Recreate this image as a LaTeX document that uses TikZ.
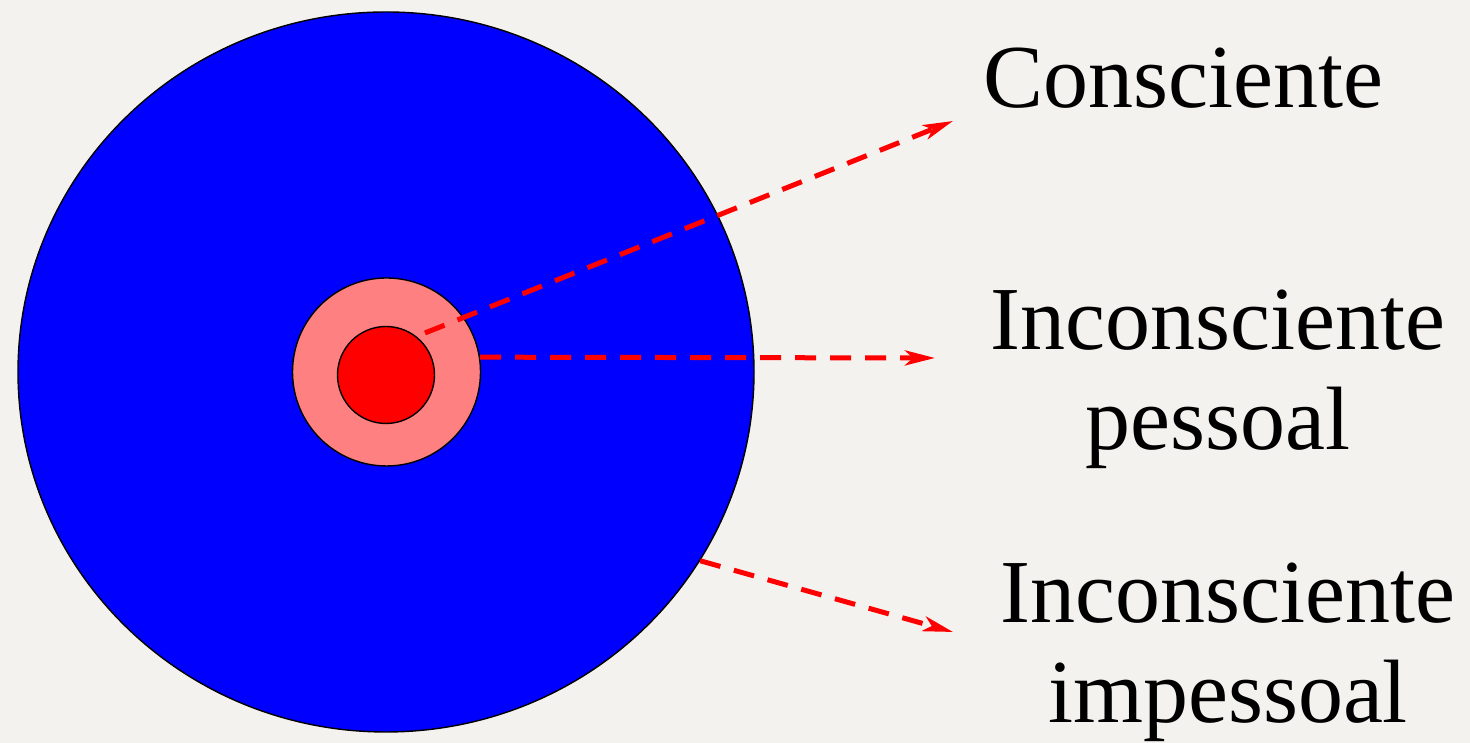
\documentclass[tikz,border=0pt]{standalone}
\usepackage{fontspec}
\setmainfont{Liberation Serif}
\usetikzlibrary{arrows.meta,shapes.geometric}
\definecolor{bgPaper}{HTML}{F4F2EE}
\definecolor{deepBlue}{HTML}{0000FF}
\definecolor{softRed}{HTML}{FF8080}
\definecolor{coreRed}{HTML}{FF0000}

\begin{document}
\begin{tikzpicture}[
      layernode/.style={draw=black, line width=0.4pt, inner sep=0pt},
      labelnode/.style={font=\fontsize{25.6pt}{28.5pt}\selectfont, align=center, inner sep=0pt, anchor=base},
      dasharr/.style={-{Stealth[length=0.3cm, width=0.15cm, inset=0.08cm]}, draw=coreRed,
        line width=0.05cm, dash pattern=on 0.21cm off 0.14cm}
    ]
      \fill[bgPaper] (0,0) rectangle (14.7,7.43);
      \useasboundingbox (0,0) rectangle (14.7,7.43);

      % the three layers
      \node[layernode, ellipse, fill=deepBlue, minimum width=7.36cm, minimum height=7.2cm] (impess) at (3.86,3.71) {};
      \node[layernode, circle, fill=softRed, minimum size=1.88cm] (pess) at (3.865,3.71) {};
      \node[layernode, circle, fill=coreRed, minimum size=0.97cm] (consc) at (3.86,3.68) {};

      % labels (base = last line)
      \node[labelnode] (lconsc) at (11.83,6.35) {Consciente};
      \node[labelnode] (lpess) at (12.18,2.93) {Inconsciente\\pessoal};
      \node[labelnode] (limpess) at (12.28,0.20) {Inconsciente\\impessoal};

      \coordinate (sconsc) at (4.25,4.10);
      \coordinate (tconsc) at (9.53,6.22);
      \coordinate (tpess) at (9.35,3.85);
      \coordinate (timpess) at (9.53,1.11);

      \draw[dasharr] (sconsc) -- (tconsc);
      \draw[dasharr] (pess.9) -- (tpess);
      \draw[dasharr] (impess.-31.55) -- (timpess);
    \end{tikzpicture}
\end{document}
